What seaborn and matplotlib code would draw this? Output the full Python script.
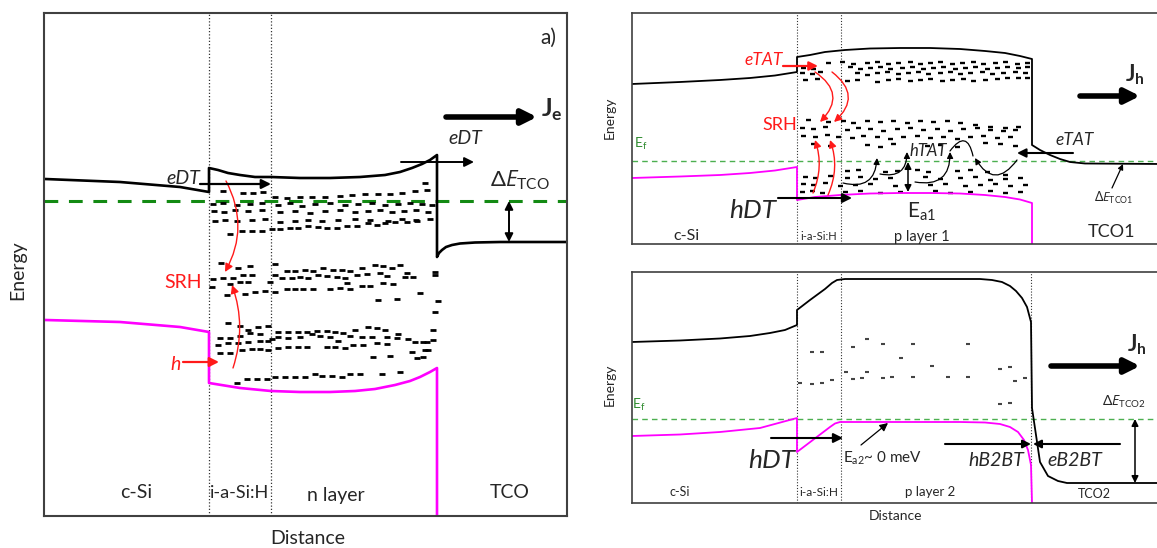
import matplotlib
matplotlib.use("Agg")
import matplotlib.pyplot as plt
import seaborn as sns

sns.set_theme(style="white")
plt.rcParams["font.family"] = ["Lato", "DejaVu Sans"]
plt.rcParams["mathtext.fontset"] = "custom"
plt.rcParams["mathtext.rm"] = "Lato"
plt.rcParams["mathtext.it"] = "Open Sans:italic"
plt.rcParams["mathtext.bf"] = "Lato:bold"

# ---- band profiles (distance, energy), panel a) n layer ----
cb_n_x = [45, 120, 180, 209, 209, 218, 228, 240, 255, 271, 300, 330, 360, 385, 400, 412, 422, 430, 437,
          437, 439, 442, 446, 452, 460, 475, 500, 567]
cb_n_y = [179, 182, 187, 192, 168, 170, 173, 175, 177, 177, 178, 178, 177, 175, 172, 168, 164, 160, 155,
          257, 253, 250, 247, 245, 243.5, 242.5, 242, 242]
vb_n_x = [45, 120, 180, 209, 209, 240, 271, 300, 330, 355, 375, 395, 410, 420, 430, 437, 437]
vb_n_y = [320, 322, 327, 332, 383, 388, 391, 392, 392, 391, 389, 385, 381, 377, 372, 368, 516]
ef_n = 201

# ---- p layer 1 ----
cb_p1_x = [632, 680, 720, 750, 775, 797, 797, 810, 825, 845, 870, 900, 930, 960, 985, 1005, 1020, 1032,
           1032, 1040, 1050, 1060, 1070, 1085, 1162]
cb_p1_y = [84, 82, 80, 78, 75.5, 72, 57, 55, 52, 50, 48.5, 48, 48, 49, 51, 53, 56, 59,
           145, 150, 155, 159, 162, 163.5, 164]
vb_p1_x = [632, 680, 720, 750, 775, 797, 797, 815, 840, 870, 900, 930, 960, 985, 1005, 1020, 1032, 1032]
vb_p1_y = [178, 176.5, 175, 173, 170.5, 167, 200, 197, 195, 193.5, 193, 193, 193.5, 195, 197, 199.5, 203, 244]
ef_p1 = 161

# ---- p layer 2 ----
cb_p2_x = [632, 680, 720, 750, 770, 785, 797, 797, 810, 825, 832, 837, 845, 900, 980, 992, 1002, 1010,
           1016, 1022, 1027, 1031, 1032, 1040, 1048, 1058, 1067, 1100, 1162]
cb_p2_y = [342, 340.5, 338.5, 336, 333, 330, 325, 310, 300, 289, 283, 280, 279, 279, 279, 280, 282, 286,
           291, 298, 307, 322, 408, 462, 476, 481, 483, 483, 483]
vb_p2_x = [632, 680, 720, 760, 797, 797, 830, 835, 840, 960, 985, 1000, 1010, 1018, 1024, 1028, 1031, 1032]
vb_p2_y = [436, 434.5, 432, 428, 418, 452, 427, 423.5, 422, 422, 422.5, 424, 427, 432, 440, 450, 465, 503]
ef_p2 = 419

# ---- trap states (dash centres) ----
traps_n = [
    (223,191),(243,193),(253,193),(263,192),(275,197),(287,198),(300,197),(312,197),(325,197),(340,196),(352,195),
    (365,194),(378,194),(390,194),(402,193),(415,191),(427,190),(425,183),
    (213,204),(223,203),(237,205),(250,204),(262,203),(278,205),(290,203),(302,206),(315,204),(330,203),(345,205),
    (358,204),(372,203),(385,205),(398,204),(410,203),(422,204),(432,205),
    (214,211),(224,212),(235,210),(248,211),(262,210),(280,212),(295,211),(310,213),(325,211),(340,210),(355,212),
    (368,211),(380,210),(392,212),(404,211),(416,210),(428,212),
    (215,221),(225,220),(237,221),(252,220),(265,219),(280,222),(295,221),(308,220),(322,221),(338,220),(355,219),
    (370,220),(388,221),(402,219),(416,220),(430,219),
    (230,234),(242,231),(252,231),(262,231),(272,229),(280,229),(290,228),(298,228),(308,226),(318,227),(327,228),
    (337,228),(347,226),(357,226),(368,223),(377,225),(385,223),(395,222),(407,222),(417,221),
    (221,263),(238,268),(250,266),(275,264),(287,271),(295,271),(305,270),(313,271),(323,268),(333,270),(342,270),
    (350,271),(362,268),(375,265),(383,266),(392,268),(400,265),(407,273),(435,272),
    (213,279),(223,278),(233,278),(243,275),(252,275),(275,275),(282,278),(292,278),(300,277),(308,278),(318,275),
    (327,276),(337,277),(345,278),(357,275),(367,274),(380,273),(387,276),(405,277),(413,277),(435,275),
    (212,287),(230,284),(240,282),(248,282),(227,295),(245,294),(255,292),(265,291),(270,282),(275,292),(287,289),
    (295,289),(303,289),(313,289),(330,289),(340,288),(350,289),(362,286),(370,286),(383,283),(393,284),(347,283),
    (378,300),(397,299),(420,293),(438,301),(435,312),
    (228,323),(240,326),(248,330),(258,327),(268,326),(278,332),(288,332),(298,332),(307,332),(317,331),(327,331),
    (335,332),(343,333),(355,330),(368,327),(377,328),(385,330),(398,334),(408,339),(415,342),(427,342),(433,330),
    (220,338),(230,338),(240,336),(250,333),(260,334),(272,339),(278,337),(288,338),(300,337),(312,334),(320,336),
    (330,337),(338,341),(350,336),(362,337),(372,337),(387,337),(397,338),(423,342),(433,340),
    (218,345),(228,343),(238,343),(248,342),(260,341),(268,341),(278,348),(288,347),(298,347),(307,347),(327,347),
    (335,347),(345,348),(353,345),(363,345),(377,343),(387,344),(412,352),(425,350),
    (220,353),(230,353),(242,350),(252,349),(260,349),(268,350),(373,357),(390,356),(417,358),(423,357),(428,350),
    (237,383),(247,379),(257,379),(267,379),(275,377),(285,377),(295,377),(305,377),(315,374),(322,376),(332,376),
    (342,377),(350,374),(360,374),(382,374),(400,372),
]
traps_p1 = [
    (828,63),(842,62),(853,64),(867,63),(877,62),(888,64),(898,63),(910,62),(920,64),(930,63),(940,62),(952,64),
    (962,63),(973,62),(983,64),(995,63),(1005,62),(1017,64),(1027,63),
    (803,68),(813,69),(850,67),(860,69),(870,68),(880,67),(890,69),(902,68),(912,67),(923,69),(933,68),(943,67),
    (955,69),(965,68),(975,67),(987,69),(997,68),(1007,67),(1018,68),(1027,67),
    (802,73),(812,74),(820,72),(857,73),(867,75),(877,73),(887,72),(898,74),(908,73),(918,72),(928,74),(940,73),
    (950,72),(960,74),(970,73),(982,72),(992,74),(1003,73),(1015,72),(1025,73),
    (805,80),(817,79),(847,81),(857,80),(877,82),(888,80),(898,79),(910,81),(920,80),(930,79),(942,81),(952,80),
    (963,79),(973,81),(985,80),(997,79),(1007,78),(1018,78),(1027,78),
    (808,120),(828,122),(843,121),(853,123),(867,121),(880,122),(893,121),(907,123),(920,121),(933,122),(947,121),
    (960,123),(975,125),(990,127),(1005,128),(1018,127),
    (802,128),(813,129),(825,127),(847,130),(858,128),(870,129),(883,131),(897,129),(910,128),(923,130),(937,129),
    (950,131),(963,129),(977,128),(990,130),(1003,131),(1015,130),
    (803,136),(815,137),(827,135),(838,137),(852,138),(863,136),(877,137),(890,139),(903,137),(917,136),(930,138),
    (943,137),(957,139),(970,137),(983,136),(997,138),(1010,137),
    (813,144),(830,146),(867,145),(880,147),(893,144),(927,146),(940,145),(957,147),(985,143),(1000,144),(1015,146),
    (847,171),(858,170),(885,172),(897,171),(917,170),(928,172),(957,171),(970,170),(987,172),(1005,175),
    (805,177),(815,178),(830,176),(847,178),(860,177),(875,179),(890,178),(925,177),(940,179),(960,178),(975,177),
    (990,180),(1005,179),(1020,178),
    (803,184),(813,185),(825,183),(840,186),(855,185),(870,184),(895,186),(930,185),(945,184),(965,186),(980,185),
    (995,184),(1010,186),(1025,185),
    (802,192),(812,191),(822,193),(845,192),(860,191),(880,193),(900,192),(935,191),(950,193),(970,192),(990,191),
    (1005,193),(1020,192),
]
traps_p2 = [
    (812,352),(822,352),(800,383),(812,384),(822,383),(832,380),(846,372),(853,347),(867,339),(867,372),(853,379),
    (862,378),(883,344),(883,378),(892,377),(901,358),(913,344),(913,377),(932,366),(948,377),(968,344),(968,377),
    (1000,369),(1010,367),(1015,381),(1025,378),(1000,404),(1010,403),
]

W, H = 1157, 548
fig = plt.figure(figsize=(W / 100, H / 100), dpi=100)


def panel(l, t, r, b, lw):
    ax = fig.add_axes([l / W, 1 - b / H, (r - l) / W, (b - t) / H])
    ax.set_xlim(l, r)
    ax.set_ylim(b, t)
    ax.set_xticks([])
    ax.set_yticks([])
    for s in ax.spines.values():
        s.set_color("#404040")
        s.set_linewidth(lw)
    return ax


def arrow(ax, start, end, color="black", lw=1.2, ms=13, rad=0.0, style="-|>"):
    ax.annotate("", xy=end, xytext=start,
                arrowprops=dict(arrowstyle=style, color=color, lw=lw, mutation_scale=ms,
                                shrinkA=0, shrinkB=0, connectionstyle=f"arc3,rad={rad}"))


def bands(ax, cbx, cby, vbx, vby, lw):
    sns.lineplot(x=cbx, y=cby, sort=False, estimator=None, color="black", lw=lw, ax=ax)
    sns.lineplot(x=vbx, y=vby, sort=False, estimator=None, color="#ff00ff", lw=lw, ax=ax)


def traps(ax, pts, ms, mew, color="black"):
    ax.plot([p[0] for p in pts], [p[1] for p in pts], ls="none", marker="_",
            ms=ms, mew=mew, color=color)


red = "#ff1a1a"

# ================= left panel =================
ax = panel(44, 13, 567, 516, 1.5)
for xv in (209, 271):
    ax.axvline(xv, color="#333333", ls=(0, (1, 1.6)), lw=0.9)
ax.axhline(ef_n, color="#138a13", ls=(0, (4.5, 3.5)), lw=2.2)
traps(ax, traps_n, 5, 2.0)
bands(ax, cb_n_x, cb_n_y, vb_n_x, vb_n_y, 1.9)

arrow(ax, (226, 181), (225, 272), color=red, lw=1.0, ms=12, rad=-0.27)
arrow(ax, (233, 368), (232, 285), color=red, lw=1.0, ms=12, rad=0.17)
arrow(ax, (183, 362), (219, 362), color=red, lw=1.6, ms=14)
arrow(ax, (200, 184), (271, 184), lw=1.6, ms=14)
arrow(ax, (401, 162), (474, 162), lw=1.4, ms=14)
arrow(ax, (446, 117), (537, 117), lw=4, ms=22)
arrow(ax, (509, 201), (509, 242), lw=1.4, ms=12, style="<|-|>")

ax.text(183, 178, "eDT", fontsize=14, style="italic", ha="center", va="center")
ax.text(465, 138, "eDT", fontsize=14, style="italic", ha="center", va="center")
ax.text(183, 283, "SRH", fontsize=14, color=red, ha="center", va="center")
ax.text(176, 365, "h", fontsize=14, color=red, style="italic", ha="center", va="center")
ax.text(490, 180, r"$\mathit{ΔE}_{\mathrm{TCO}}$", fontsize=16, ha="left", va="center")
ax.text(541, 110, r"$\mathbf{J}_{\mathbf{e}}$", fontsize=18, ha="left", va="center")
ax.text(548, 38, "a)", fontsize=15, ha="center", va="center")
ax.text(136, 493, "c-Si", fontsize=14, ha="center", va="center")
ax.text(240, 493, "i-a-Si:H", fontsize=13, ha="center", va="center")
ax.text(336, 496, "n layer", fontsize=14, ha="center", va="center")
ax.text(510, 493, "TCO", fontsize=14, ha="center", va="center")
ax.text(308, 539, "Distance", fontsize=14, ha="center", va="center")
ax.text(18, 270, "Energy", fontsize=14, rotation=90, ha="center", va="center")

# ================= right top panel =================
ax = panel(632, 13, 1162, 244, 1.2)
for xv in (797, 841):
    ax.axvline(xv, color="#333333", ls=(0, (1, 1.6)), lw=0.8)
ax.axhline(ef_p1, color="#4caf50", ls=(0, (4, 3)), lw=1.0)
traps(ax, traps_p1, 3.6, 1.7)
bands(ax, cb_p1_x, cb_p1_y, vb_p1_x, vb_p1_y, 1.3)

arrow(ax, (783, 66), (818, 66), color=red, lw=1.6, ms=13)
arrow(ax, (815, 72), (820, 122), color=red, lw=1.0, ms=11, rad=-0.6)
arrow(ax, (832, 72), (834, 122), color=red, lw=1.0, ms=11, rad=-0.6)
arrow(ax, (813, 193), (815, 140), color=red, lw=1.0, ms=11, rad=0.19)
arrow(ax, (828, 195), (830, 140), color=red, lw=1.0, ms=11, rad=0.2)
arrow(ax, (778, 198), (852, 198), lw=1.5, ms=14)
arrow(ax, (843, 183), (877, 158), lw=0.9, ms=9, rad=0.6)
arrow(ax, (880, 174), (907, 152), lw=0.9, ms=9, rad=0.6)
arrow(ax, (915, 182), (950, 152), lw=0.9, ms=9, rad=0.6)
arrow(ax, (950, 151), (973, 156), lw=0.9, ms=9, rad=-1.1, style="-")
arrow(ax, (1017, 160), (975, 158), lw=0.9, ms=9, rad=-0.75)
arrow(ax, (908, 162), (908, 192), lw=1.1, ms=10, style="<|-|>")
arrow(ax, (1073, 153), (1017, 153), lw=1.5, ms=13)
arrow(ax, (1112, 188), (1123, 164), lw=0.9, ms=8)
arrow(ax, (1080, 96), (1140, 96), lw=4, ms=22)

ax.text(764, 60, "eTAT", fontsize=12.5, style="italic", color=red, ha="center", va="center")
ax.text(780, 125, "SRH", fontsize=13, color=red, ha="center", va="center")
ax.text(753, 210, "hDT", fontsize=19, style="italic", ha="center", va="center")
ax.text(922, 212, r"E$_{\mathrm{a1}}$", fontsize=15, ha="center", va="center")
ax.text(928, 151, "hTAT", fontsize=12, style="italic", ha="center", va="center")
ax.text(1075, 140, "eTAT", fontsize=12.5, style="italic", ha="center", va="center")
ax.text(1114, 198, r"$\mathit{ΔE}_{\mathrm{TCO1}}$", fontsize=9, ha="center", va="center")
ax.text(1125, 75, r"$\mathbf{J}_{\mathbf{h}}$", fontsize=16, ha="left", va="center")
ax.text(641, 144, r"E$_{\mathrm{f}}$", fontsize=10, color="#2e8b2e", ha="center", va="center")
ax.text(686, 236, "c-Si", fontsize=11.5, ha="center", va="center")
ax.text(819, 237, "i-a-Si:H", fontsize=8, ha="center", va="center")
ax.text(922, 237, "p layer 1", fontsize=10.5, ha="center", va="center")
ax.text(1111, 232, "TCO1", fontsize=13, ha="center", va="center")
ax.text(610, 118, "Energy", fontsize=10, rotation=90, ha="center", va="center")

# ================= right bottom panel =================
ax = panel(632, 272, 1162, 503, 1.2)
for xv in (797, 841, 1031):
    ax.axvline(xv, color="#333333", ls=(0, (1, 1.6)), lw=0.8)
ax.axhline(ef_p2, color="#4caf50", ls=(0, (4, 3)), lw=1.0)
traps(ax, traps_p2, 3.2, 1.5, color="#444444")
bands(ax, cb_p2_x, cb_p2_y, vb_p2_x, vb_p2_y, 1.3)

arrow(ax, (771, 438), (843, 438), lw=1.5, ms=14)
arrow(ax, (861, 445), (888, 423), lw=0.9, ms=12)
arrow(ax, (945, 444), (1031, 444), lw=1.5, ms=12)
arrow(ax, (1120, 444), (1033, 444), lw=1.5, ms=12)
arrow(ax, (1135, 419), (1135, 483), lw=1.1, ms=10, style="<|-|>")
arrow(ax, (1051, 366), (1140, 366), lw=4, ms=22)

ax.text(772, 460, "hDT", fontsize=19, style="italic", ha="center", va="center")
ax.text(843, 458, r"E$_{\mathrm{a2}}$~ 0 meV", fontsize=11, ha="left", va="center")
ax.text(996, 460, "hB2BT", fontsize=14, style="italic", ha="center", va="center")
ax.text(1075, 460, "eB2BT", fontsize=14, style="italic", ha="center", va="center")
ax.text(1124, 402, r"$\mathit{ΔE}_{\mathrm{TCO2}}$", fontsize=10, ha="center", va="center")
ax.text(1127, 345, r"$\mathbf{J}_{\mathbf{h}}$", fontsize=16, ha="left", va="center")
ax.text(639, 405, r"E$_{\mathrm{f}}$", fontsize=10, color="#2e8b2e", ha="center", va="center")
ax.text(680, 492, "c-Si", fontsize=9, ha="center", va="center")
ax.text(819, 492, "i-a-Si:H", fontsize=8.5, ha="center", va="center")
ax.text(930, 492, "p layer 2", fontsize=9.5, ha="center", va="center")
ax.text(1094, 494, "TCO2", fontsize=9, ha="center", va="center")
ax.text(896, 516, "Distance", fontsize=10, ha="center", va="center")
ax.text(610, 385, "Energy", fontsize=10, rotation=90, ha="center", va="center")

fig.savefig("out.png", dpi=100, facecolor="white")
